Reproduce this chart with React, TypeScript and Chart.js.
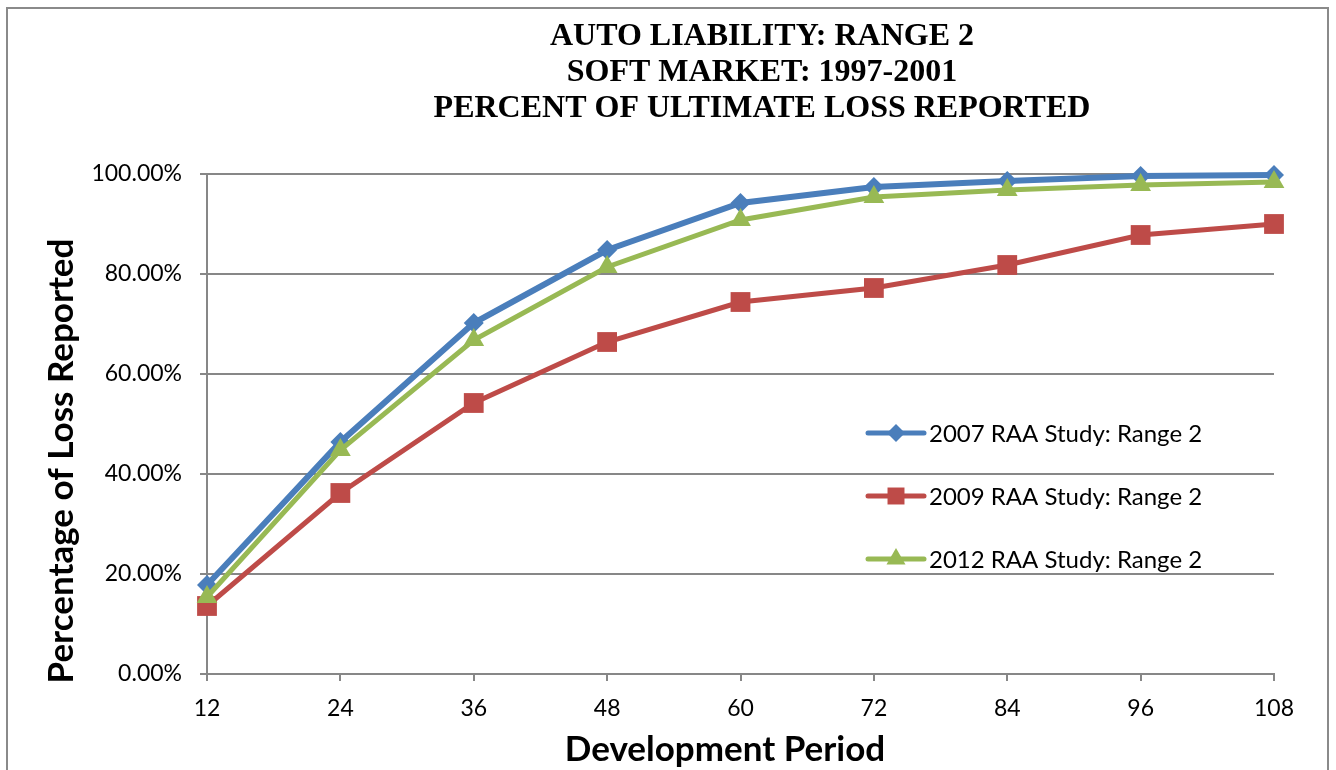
import React, { useEffect, useRef } from "react";
import { Chart, registerables } from "chart.js";

Chart.register(...registerables);

const periods = ["12", "24", "36", "48", "60", "72", "84", "96", "108"];
const study2007 = [17.8, 46.4, 70.2, 84.8, 94.2, 97.4, 98.6, 99.6, 99.8];
const study2009 = [13.6, 36.2, 54.2, 66.4, 74.4, 77.2, 81.8, 87.8, 90.0];
const study2012 = [15.4, 44.8, 66.8, 81.4, 90.8, 95.4, 96.8, 97.8, 98.4];
const seriesNames = ["2007 RAA Study: Range 2", "2009 RAA Study: Range 2", "2012 RAA Study: Range 2"];
const titleLines = ["AUTO LIABILITY: RANGE 2", "SOFT MARKET: 1997-2001", "PERCENT OF ULTIMATE LOSS REPORTED"];
const yTickStep = 20;
const xAxisTitle = "Development Period";
const yAxisTitle = "Percentage of Loss Reported";

const BLUE = "#4A7EBB";
const RED = "#BE4B48";
const GREEN = "#98B954";
const GRID = "#878787";
const SANS = "Lato, 'Open Sans', sans-serif";

function drawMarker(ctx: CanvasRenderingContext2D, style: string, x: number, y: number, r: number, color: string) {
  ctx.fillStyle = color;
  ctx.beginPath();
  if (style === "rectRot") {
    ctx.moveTo(x - r, y);
    ctx.lineTo(x, y - r);
    ctx.lineTo(x + r, y);
    ctx.lineTo(x, y + r);
  } else if (style === "rect") {
    const s = r * Math.SQRT1_2;
    ctx.rect(x - s, y - s, 2 * s, 2 * s);
  } else {
    ctx.moveTo(x, y - r);
    ctx.lineTo(x + r * Math.sin(Math.PI / 3), y + r * 0.5);
    ctx.lineTo(x - r * Math.sin(Math.PI / 3), y + r * 0.5);
  }
  ctx.closePath();
  ctx.fill();
}

const overlayPlugin = {
  id: "overlay",
  afterDraw(chart: any) {
    const ctx: CanvasRenderingContext2D = chart.ctx;
    const ca = chart.chartArea;
    ctx.save();
    // Title
    ctx.fillStyle = "#000";
    ctx.textAlign = "center";
    ctx.textBaseline = "middle";
    ctx.font = "bold 32px 'Liberation Serif', 'Times New Roman', serif";
    const tx = ca.left + 555;
    titleLines.forEach((t, i) => {
      ctx.fillText(t, tx, ca.top - 137 + i * 36);
    });
    // X axis title
    ctx.font = `bold 35px ${SANS}`;
    ctx.fillText(xAxisTitle, ca.left + 518, ca.bottom + 76);
    // Y axis title
    ctx.save();
    ctx.translate(54, ca.top + 287);
    ctx.rotate(-Math.PI / 2);
    ctx.fillText(yAxisTitle, 0, 0);
    ctx.restore();
    // Legend
    const styles = ["rectRot", "rect", "triangle"];
    const radii = [9, 12, 11];
    const colors = [BLUE, RED, GREEN];
    ctx.textAlign = "left";
    ctx.font = `24px ${SANS}`;
    for (let i = 0; i < 3; i++) {
      const y = ca.top + 259 + i * 63;
      const x0 = ca.left + 661;
      ctx.strokeStyle = colors[i];
      ctx.lineWidth = 5;
      ctx.lineCap = "round";
      ctx.beginPath();
      ctx.moveTo(x0, y);
      ctx.lineTo(x0 + 56, y);
      ctx.stroke();
      drawMarker(ctx, styles[i], x0 + 28, y, radii[i], colors[i]);
      ctx.fillStyle = "#000";
      ctx.fillText(seriesNames[i], x0 + 61, y + 1);
    }
    ctx.restore();
  },
};

export default function App() {
  const ref = useRef<HTMLCanvasElement | null>(null);
  useEffect(() => {
    if (!ref.current) return;
    const chart = new Chart(ref.current, {
      type: "line",
      data: {
        labels: periods,
        datasets: [
          {
            label: seriesNames[0],
            data: study2007,
            borderColor: BLUE,
            backgroundColor: BLUE,
            borderWidth: 6,
            pointStyle: "rectRot",
            pointRadius: 10,
            pointBorderWidth: 0,
            tension: 0,
            order: 3,
            clip: false,
          },
          {
            label: seriesNames[1],
            data: study2009,
            borderColor: RED,
            backgroundColor: RED,
            borderWidth: 5,
            pointStyle: "rect",
            pointRadius: 14,
            pointBorderWidth: 0,
            tension: 0,
            order: 2,
            clip: false,
          },
          {
            label: seriesNames[2],
            data: study2012,
            borderColor: GREEN,
            backgroundColor: GREEN,
            borderWidth: 5,
            pointStyle: "triangle",
            pointRadius: 12,
            pointBorderWidth: 0,
            tension: 0,
            order: 1,
            clip: false,
          },
        ],
      },
      options: {
        responsive: false,
        animation: false,
        layout: { padding: { top: 165, right: 53, bottom: 0, left: 0 } },
        plugins: {
          legend: { display: false },
          title: { display: false },
          tooltip: { enabled: false },
        },
        scales: {
          x: {
            type: "category",
            offset: false,
            grid: { display: true, drawOnChartArea: false, drawTicks: true, tickLength: 7, color: GRID, lineWidth: 2 },
            border: { display: true, color: GRID, width: 2 },
            ticks: { color: "#000", font: { family: SANS, size: 23 }, padding: 14, maxRotation: 0, autoSkip: false },
            afterFit(s: any) {
              s.height = 96;
            },
          },
          y: {
            min: 0,
            max: 100,
            grid: { color: GRID, lineWidth: 2, tickLength: 7 },
            border: { display: true, color: GRID, width: 2 },
            ticks: {
              stepSize: yTickStep,
              color: "#000",
              font: { family: SANS, size: 23 },
              padding: 18,
              callback: (v: any) => Number(v).toFixed(2) + "%",
            },
            afterFit(s: any) {
              s.width = 199;
            },
          },
        },
      },
      plugins: [overlayPlugin],
    } as any);
    return () => chart.destroy();
  }, []);

  return (
    <div
      style={{
        position: "fixed",
        left: 6,
        top: 7,
        width: 1323,
        height: 800,
        border: "2px solid #8a8a8a",
        boxSizing: "border-box",
        background: "#fff",
      }}
    >
      <canvas ref={ref} width={1319} height={761} style={{ display: "block" }} />
    </div>
  );
}
